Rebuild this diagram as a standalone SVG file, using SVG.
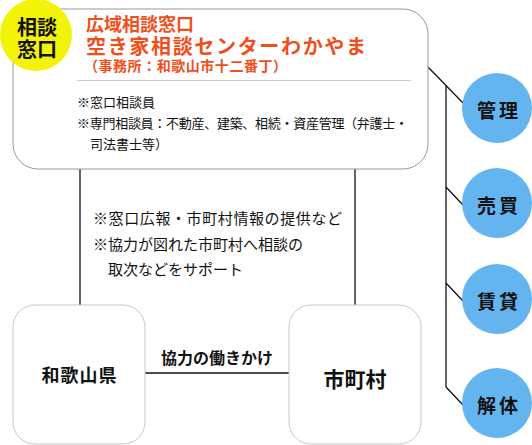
<svg xmlns="http://www.w3.org/2000/svg" width="532" height="445" viewBox="0 0 532 445">
<style>
text{font-family:"Noto Sans CJK JP","Noto Sans",sans-serif;fill:#111}
.b{font-weight:bold}
.o{fill:#f04e1a;font-weight:bold}
.box{fill:#fff;stroke:#999;stroke-width:1}
.sbox{fill:#fff;stroke:#c8c8c8;stroke-width:1}
.c{fill:#64b4f0}
.ln{stroke:#111;stroke-width:1.3;fill:none}
.cl{font-size:19px;font-weight:bold;letter-spacing:3px}
</style>
<rect width="532" height="445" fill="#fff"/>
<g id="connectors">
<line class="ln" x1="80" y1="169" x2="80" y2="305"/>
<line class="ln" x1="355" y1="169" x2="355" y2="305"/>
<line class="ln" x1="145" y1="373" x2="289" y2="373"/>
<polyline class="ln" points="428,67 463,103"/>
<line class="ln" x1="446" y1="86" x2="446" y2="387"/>
<polyline class="ln" points="446,187 463,205"/>
<polyline class="ln" points="446,283 463,301"/>
<polyline class="ln" points="446,387 463,405"/>
<text class="b" x="217" y="364" font-size="16" text-anchor="middle">協力の働きかけ</text>
<text x="93" y="224" font-size="15" textLength="249">※窓口広報・市町村情報の提供など</text>
<text x="93" y="250" font-size="15">※協力が図れた市町村へ相談の</text>
<text x="108" y="275" font-size="15">取次などをサポート</text>
</g>
<g id="center">
<rect class="box" x="13" y="9" width="415" height="160" rx="25"/>
<text class="o" x="86" y="31" font-size="18">広域相談窓口</text>
<text class="o" x="86" y="54" font-size="20" textLength="280">空き家相談センターわかやま</text>
<text class="o" x="84" y="71" font-size="14" textLength="203">（事務所：和歌山市十二番丁）</text>
<line x1="77" y1="80.5" x2="411" y2="80.5" stroke="#ccc" stroke-width="1"/>
<text x="77" y="107" font-size="13">※窓口相談員</text>
<text x="77" y="128" font-size="13" textLength="331">※専門相談員：不動産、建築、相続・資産管理（弁護士・</text>
<text x="90" y="149" font-size="13">司法書士等）</text>
</g>
<g id="badge">
<circle cx="36" cy="35" r="36" fill="#f3f30a"/>
<text class="b" x="37" y="35" font-size="20" text-anchor="middle">相談</text>
<text class="b" x="37" y="57" font-size="20" text-anchor="middle">窓口</text>
</g>
<g id="wakayama">
<rect class="sbox" x="13" y="305" width="132" height="139" rx="22"/>
<text class="b" x="79" y="382" font-size="18" text-anchor="middle" textLength="75">和歌山県</text>
</g>
<g id="shichoson">
<rect class="sbox" x="289" y="305" width="132" height="139" rx="22"/>
<text class="b" x="355" y="387" font-size="21" text-anchor="middle">市町村</text>
</g>
<g id="kanri"><circle class="c" cx="497" cy="108" r="35"/><text class="cl" x="477" y="118">管理</text></g>
<g id="baibai"><circle class="c" cx="497" cy="203" r="35"/><text class="cl" x="477" y="213">売買</text></g>
<g id="chintai"><circle class="c" cx="497" cy="299" r="35"/><text class="cl" x="477" y="309">賃貸</text></g>
<g id="kaitai"><circle class="c" cx="497" cy="403" r="35"/><text class="cl" x="477" y="413">解体</text></g>
</svg>
